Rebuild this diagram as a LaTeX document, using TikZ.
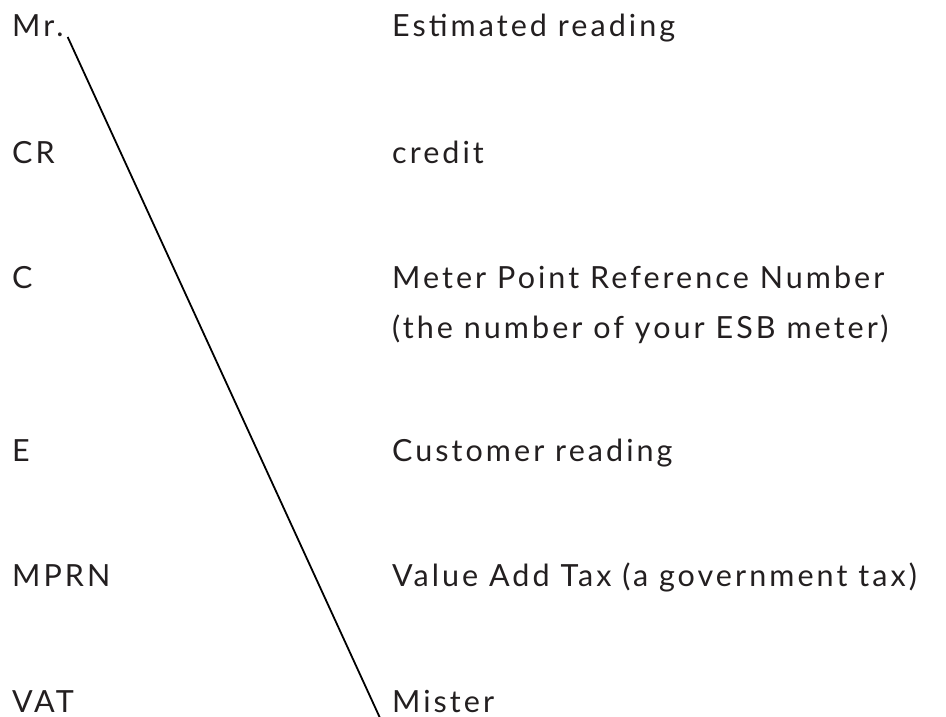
\documentclass[tikz,border=0pt]{standalone}
\usepackage{fontspec}
\setmainfont{Lato}[LetterSpace=10]
\usetikzlibrary{positioning}
\definecolor{inkgrey}{HTML}{231F20}
\newcommand{\wordfont}{\fontsize{30.5}{50}\selectfont}

\begin{document}
\begin{tikzpicture}[x=1pt, y=-1pt,
	word/.style={anchor=base west, inner sep=0pt, text=inkgrey, font=\wordfont},
	match/.style={draw=black, line width=1.8pt}]
	\useasboundingbox (0,0) rectangle (946,717);

	% abbreviations
	\node[word] (mr)   at (12,37)  {Mr.};
	\node[word] (cr)   at (12,163) {CR};
	\node[word] (c)    at (12,288) {C};
	\node[word] (e)    at (12,461) {E};
	\node[word] (mprn) at (12,586) {MPRN};
	\node[word] (vat)  at (12,712) {VAT};

	% meanings
	\node[word] (estimated) at (392,37)  {Estimated reading};
	\node[word] (credit)    at (392,163) {credit};
	\node[word] (meterref)  at (392,288) {Meter Point Reference Number};
	\node[word] (esbmeter)  at (392,338) {(the number of your ESB meter)};
	\node[word] (customer)  at (392,461) {Customer reading};
	\node[word] (valueadd)  at (392,586) {Value Add Tax (a government tax)};
	\node[word] (mister)    at (392,712) {Mister};

	\draw[match] ([xshift=4pt]mr.base east) -- ([xshift=-12pt, yshift=-6pt]mister.base west);

\end{tikzpicture}
\end{document}
